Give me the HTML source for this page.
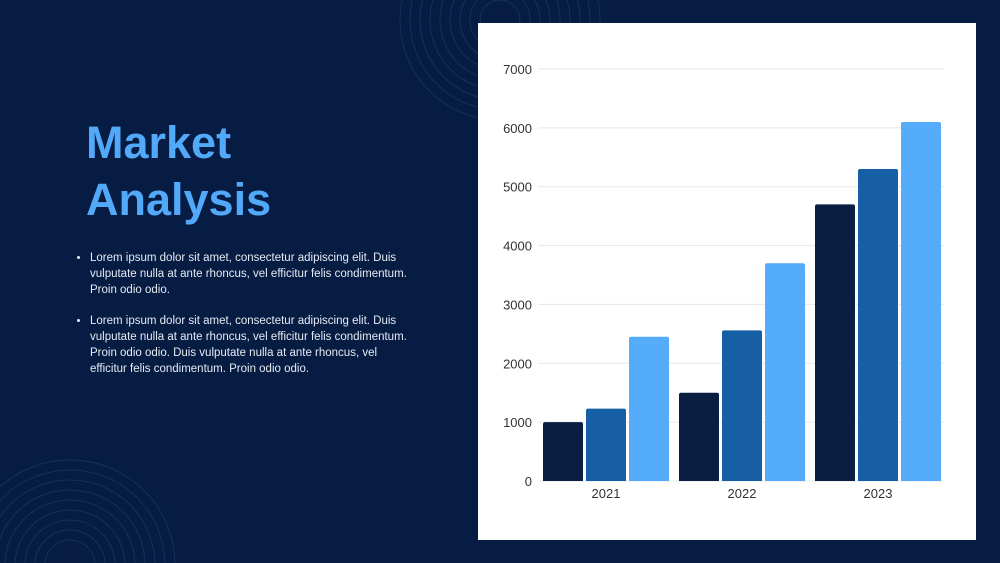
<!DOCTYPE html>
<html><head><meta charset="utf-8"><style>
html,body{margin:0;width:1000px;height:563px;overflow:hidden}
body{background:#061c42;font-family:"Liberation Sans",sans-serif;position:relative}
#title{position:absolute;left:86px;top:114px;color:#53a9f9;font-weight:bold;font-size:45px;line-height:57px;margin:0}
ul{position:absolute;left:72px;top:250px;width:320px;margin:0;padding-left:18px;color:#e6ebf3;font-size:11.5px;line-height:16px}
li{margin-bottom:15px}
#panel{position:absolute;left:478px;top:23px;width:498px;height:517px;background:#fff}
</style></head><body>
<svg width="1000" height="563" style="position:absolute;left:0;top:0">
<g fill="none" stroke="#2f5a8a" stroke-width="1" opacity="0.35" id="c1"></g>
</svg>
<h1 id="title">Market<br>Analysis</h1>
<ul>
<li>Lorem ipsum dolor sit amet, consectetur adipiscing elit. Duis vulputate nulla at ante rhoncus, vel efficitur felis condimentum. Proin odio odio.</li>
<li>Lorem ipsum dolor sit amet, consectetur adipiscing elit. Duis vulputate nulla at ante rhoncus, vel efficitur felis condimentum. Proin odio odio. Duis vulputate nulla at ante rhoncus, vel efficitur felis condimentum. Proin odio odio.</li>
</ul>
<div id="panel">
<svg id="chart" width="498" height="517"></svg>
</div>
<script>
const categories=["2021","2022","2023"];
const seriesA=[1000,1500,4700];
const seriesB=[1230,2560,5300];
const seriesC=[2450,3700,6100];
const yTicks=[0,1000,2000,3000,4000,5000,6000,7000];
const NS="http://www.w3.org/2000/svg";
function mk(t,a,p){const e=document.createElementNS(NS,t);for(const k in a)e.setAttribute(k,a[k]);p.appendChild(e);return e;}
const g=document.getElementById('c1');
for(let i=0;i<9;i++){const c=mk('circle',{cx:500,cy:20,r:20+i*10},g);}
for(let i=0;i<9;i++){const c=mk('circle',{cx:70,cy:565,r:25+i*10},g);}
const svg=document.getElementById('chart');
const x0=60,x1=468,yBase=458,yTop=46,maxV=7000;
const y=v=>yBase-(v/maxV)*(yBase-yTop);
yTicks.forEach(t=>{
 const l=mk('line',{x1:x0,x2:466,y1:y(t),y2:y(t),stroke:'#e6e8ec','stroke-width':1},svg);
 
 const tx=mk('text',{x:54,y:y(t)+5,'text-anchor':'end','font-size':13,fill:'#333','font-family':'Liberation Sans, sans-serif'},svg);
 tx.textContent=t;
});
const gw=(x1-x0)/categories.length, bw=40, gap=3;
const series=[seriesA,seriesB,seriesC], colors=['#0a1e42','#165fa5','#54acfb'];
categories.forEach((c,i)=>{
 const gx=x0+i*gw+gw/2;
 series.forEach((s,j)=>{
  const bx=gx+(j-1)*(bw+gap)-bw/2;
  const r=mk('path',{d:`M${bx},${yBase}V${y(s[i])+2}q0,-2 2,-2h${bw-4}q2,0 2,2V${yBase}Z`,fill:colors[j]},svg);
  
 });
 const tx=mk('text',{x:gx,y:yBase+17,'text-anchor':'middle','font-size':13,fill:'#333','font-family':'Liberation Sans, sans-serif'},svg);
 tx.textContent=c;
});
</script>
</body></html>
